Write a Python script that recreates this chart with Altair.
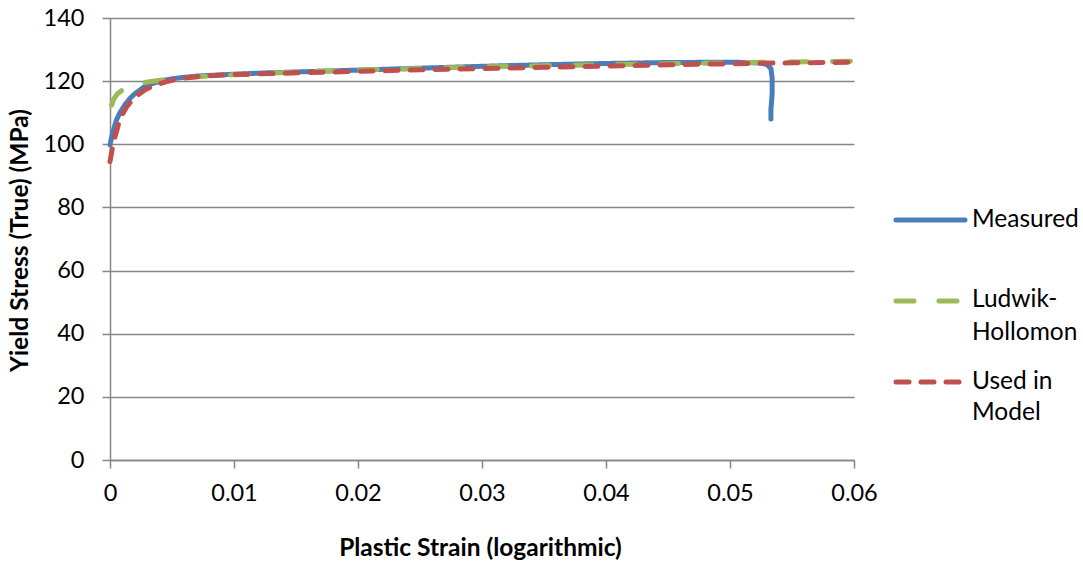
import altair as alt
import pandas as pd

# ---- data ----
meas_x = [0, 0.0002, 0.0005, 0.0008, 0.0012, 0.0016, 0.002, 0.0028, 0.0036, 0.0045, 0.0055,
          0.007, 0.0085, 0.01, 0.0125, 0.015, 0.02, 0.025, 0.03, 0.035, 0.04, 0.045, 0.05,
          0.0515, 0.0525, 0.053, 0.0533, 0.0534, 0.0534, 0.0533, 0.0533]
meas_y = [99.8, 103.5, 107.5, 110.0, 112.5, 114.5, 116.0, 118.3, 119.5, 120.4, 121.0,
          121.6, 121.9, 122.2, 122.6, 122.9, 123.5, 124.1, 124.7, 125.2, 125.6, 125.9, 126.0,
          125.9, 125.7, 125.2, 124.0, 121.0, 116.0, 111.0, 108.0]

lh_x = [0.00013, 0.0003, 0.0006, 0.001, 0.0015, 0.002, 0.003, 0.0045, 0.006, 0.008, 0.01,
        0.015, 0.02, 0.025, 0.03, 0.035, 0.04, 0.045, 0.05, 0.055, 0.06]
lh_y = [112.4, 114.3, 116.0, 117.2, 118.2, 118.9, 119.7, 120.5, 121.1, 121.6, 122.0,
        122.9, 123.5, 124.0, 124.5, 124.9, 125.2, 125.5, 125.8, 126.1, 126.3]

mod_x = [0, 0.0002, 0.0004, 0.0007, 0.001, 0.00135, 0.0018, 0.0023, 0.0028, 0.0036, 0.0045,
         0.0058, 0.0075, 0.01, 0.0138, 0.02, 0.025, 0.03, 0.035, 0.04, 0.045, 0.05, 0.055, 0.06]
mod_y = [94.5, 99.0, 102.4, 106.5, 109.5, 111.9, 114.0, 115.8, 117.2, 118.7, 119.8,
         120.9, 121.6, 122.1, 122.5, 123.1, 123.6, 124.0, 124.4, 124.8, 125.2, 125.5, 125.8, 126.0]

series = ["Measured", "Ludwik-Hollomon", "Used in Model"]
colors = ["#4A7EBB", "#9BBB59", "#C0504D"]
dashes = [[1, 0], [18, 25], [13, 12]]

y_ticks = [0, 20, 40, 60, 80, 100, 120, 140]
x_ticks = [0, 0.01, 0.02, 0.03, 0.04, 0.05, 0.06]

# legend layout (pixel positions inside the plot group)
leg_line_y = [202, 283, 364]
leg_text = ["Measured", "Ludwik-", "Hollomon", "Used in", "Model"]
leg_text_y = [202, 282, 315, 364, 395]

FONT = "Lato"

rows = []
for name, xs, ys in [(series[0], meas_x, meas_y), (series[1], lh_x, lh_y), (series[2], mod_x, mod_y)]:
    for i, (a, b) in enumerate(zip(xs, ys)):
        rows.append({"series": name, "strain": a, "stress": b, "idx": i})
df = pd.DataFrame(rows)

color_scale = alt.Scale(domain=series, range=colors)
dash_scale = alt.Scale(domain=series, range=dashes)

lines = alt.Chart(df).mark_line(strokeWidth=5, strokeCap="round", strokeJoin="round").encode(
    x=alt.X("strain:Q",
            scale=alt.Scale(domain=[0, 0.06], nice=False, zero=False),
            axis=alt.Axis(values=x_ticks, grid=False, labelFlush=False,
                          labelExpr="datum.value == 0 ? '0' : format(datum.value, '.2f')",
                          title="Plastic Strain (logarithmic)",
                          titleY=88, titleX=370, titleBaseline="middle",
                          labelPadding=13)),
    y=alt.Y("stress:Q",
            scale=alt.Scale(domain=[0, 140], nice=False),
            axis=alt.Axis(values=y_ticks, grid=True,
                          title="Yield Stress (True) (MPa)",
                          titleX=-90, titleY=222, titleBaseline="middle",
                          labelPadding=18)),
    color=alt.Color("series:N", scale=color_scale, legend=None),
    strokeDash=alt.StrokeDash("series:N", scale=dash_scale, legend=None),
    order=alt.Order("idx:Q"),
    detail="series:N",
)

leg_df = pd.DataFrame({"series": series, "py": leg_line_y})
leg_lines = alt.Chart(leg_df).mark_rule(strokeWidth=5, strokeCap="round").encode(
    x=alt.value(786), x2=alt.value(855),
    y=alt.Y("py:Q", scale=None, axis=None),
    color=alt.Color("series:N", scale=color_scale, legend=None),
    strokeDash=alt.StrokeDash("series:N", scale=dash_scale, legend=None),
)

txt_df = pd.DataFrame({"label": leg_text, "py": leg_text_y})
leg_txt = alt.Chart(txt_df).mark_text(align="left", baseline="middle", font=FONT,
                                      fontSize=24.5, color="#000000").encode(
    x=alt.value(862),
    y=alt.Y("py:Q", scale=None, axis=None),
    text="label:N",
)

chart = alt.layer(lines, leg_lines, leg_txt).properties(
    width=744, height=442,
    autosize=alt.AutoSizeParams(type="none"),
    padding={"left": 110, "top": 18, "right": 229, "bottom": 105},
    background="white",
).configure_view(stroke=None).configure_axis(
    labelFont=FONT, labelFontSize=23.5, labelColor="#000000",
    titleFont=FONT, titleFontSize=24.5, titleFontWeight="bold", titleColor="#000000",
    domainColor="#868686", domainWidth=1.5, tickColor="#868686", tickWidth=1.5, tickSize=8,
    gridColor="#868686", gridWidth=1.5,
)

chart.save("out.html", embed_options={"renderer": "svg", "actions": False})
